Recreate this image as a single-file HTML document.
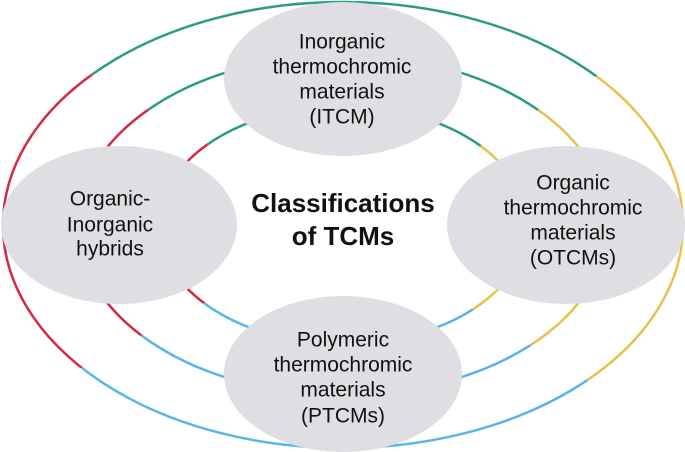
<!DOCTYPE html>
<html><head><meta charset="utf-8"><style>
html,body{margin:0;padding:0;background:#fff;}
svg{display:block;}
text{font-family:"Liberation Sans",Arial,sans-serif;fill:#111;}
</style></head><body>
<svg width="685" height="452" viewBox="0 0 685 452" xmlns="http://www.w3.org/2000/svg">
<defs>
<clipPath id="oT"><polygon points="343,225 -410,-225 1099,-219"/></clipPath>
<clipPath id="oR"><polygon points="343,225 1099,-219 1081,693"/></clipPath>
<clipPath id="oB"><polygon points="343,225 1081,693 -443,654"/></clipPath>
<clipPath id="oL"><polygon points="343,225 -443,654 -410,-225"/></clipPath>
<clipPath id="mT"><polygon points="343,225 -239,-120 928,-120"/></clipPath>
<clipPath id="mR"><polygon points="343,225 928,-120 910,588"/></clipPath>
<clipPath id="mB"><polygon points="343,225 910,588 -266,558"/></clipPath>
<clipPath id="mL"><polygon points="343,225 -266,558 -239,-120"/></clipPath>
<clipPath id="iT"><polygon points="343,225 -68,-18 751,-9"/></clipPath>
<clipPath id="iR"><polygon points="343,225 751,-9 739,483"/></clipPath>
<clipPath id="iB"><polygon points="343,225 739,483 -74,459"/></clipPath>
<clipPath id="iL"><polygon points="343,225 -74,459 -68,-18"/></clipPath>
</defs>
<g fill="none" stroke-width="2.5">
<ellipse cx="343" cy="225" rx="340" ry="223" stroke="#2a9c84" clip-path="url(#oT)"/>
<ellipse cx="343" cy="225" rx="340" ry="223" stroke="#e9c04e" clip-path="url(#oR)"/>
<ellipse cx="343" cy="225" rx="340" ry="223" stroke="#56b6e6" clip-path="url(#oB)"/>
<ellipse cx="343" cy="225" rx="340" ry="223" stroke="#d42940" clip-path="url(#oL)"/>
<ellipse cx="343" cy="225" rx="265" ry="170" stroke="#2a9c84" clip-path="url(#mT)"/>
<ellipse cx="343" cy="225" rx="265" ry="170" stroke="#e9c04e" clip-path="url(#mR)"/>
<ellipse cx="343" cy="225" rx="265" ry="170" stroke="#56b6e6" clip-path="url(#mB)"/>
<ellipse cx="343" cy="225" rx="265" ry="170" stroke="#d42940" clip-path="url(#mL)"/>
<ellipse cx="343" cy="225" rx="184" ry="119" stroke="#2a9c84" clip-path="url(#iT)"/>
<ellipse cx="343" cy="225" rx="184" ry="119" stroke="#e9c04e" clip-path="url(#iR)"/>
<ellipse cx="343" cy="225" rx="184" ry="119" stroke="#56b6e6" clip-path="url(#iB)"/>
<ellipse cx="343" cy="225" rx="184" ry="119" stroke="#d42940" clip-path="url(#iL)"/>
</g>
<g fill="#dfdfe3">
<ellipse cx="343" cy="79" rx="119" ry="77"/>
<ellipse cx="119" cy="225" rx="118" ry="79"/>
<ellipse cx="566" cy="225" rx="119" ry="79"/>
<ellipse cx="343" cy="374" rx="119" ry="78"/>
</g>
<g font-size="21" text-anchor="middle" dominant-baseline="central">
<text x="342" y="42">Inorganic</text>
<text x="342" y="67">thermochromic</text>
<text x="342" y="92">materials</text>
<text x="342" y="117">(ITCM)</text>
<text x="110" y="199">Organic-</text>
<text x="110" y="225">Inorganic</text>
<text x="110" y="249">hybrids</text>
<text x="573" y="183">Organic</text>
<text x="573" y="208">thermochromic</text>
<text x="573" y="233">materials</text>
<text x="573" y="258">(OTCMs)</text>
<text x="343" y="340">Polymeric</text>
<text x="343" y="365">thermochromic</text>
<text x="343" y="390">materials</text>
<text x="343" y="416">(PTCMs)</text>
<text x="343" y="203" font-size="26" font-weight="bold">Classifications</text>
<text x="343" y="236" font-size="26" font-weight="bold">of TCMs</text>
</g>
</svg>
</body></html>
